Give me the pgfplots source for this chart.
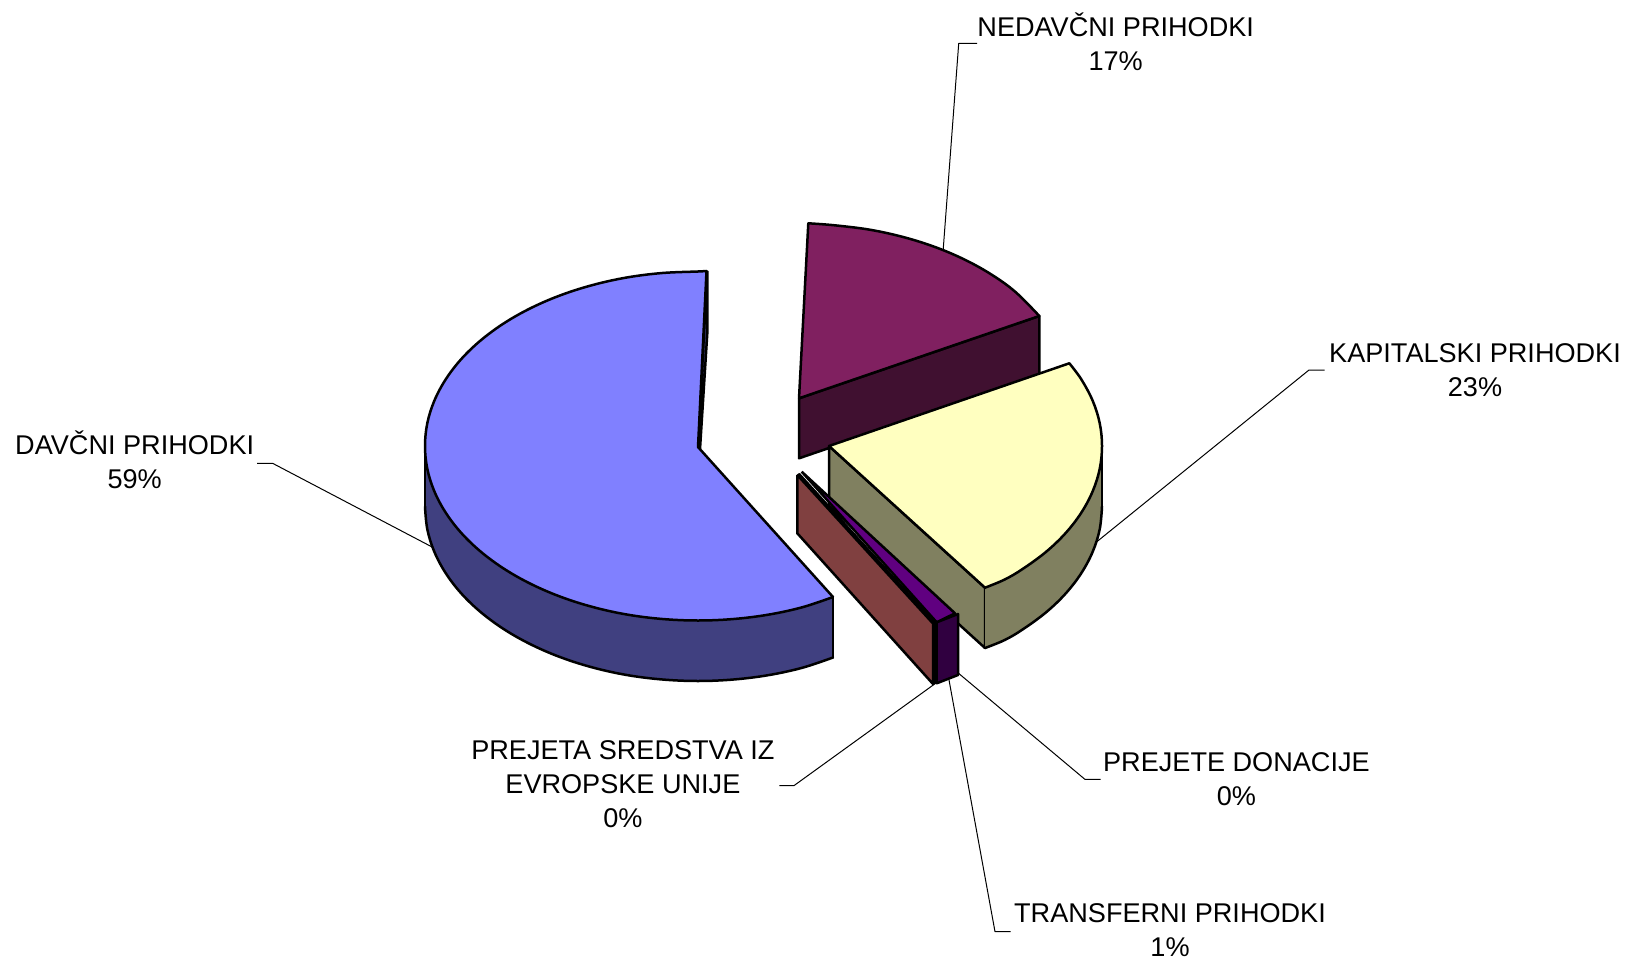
\documentclass[border=0pt]{standalone}
\usepackage{pgfplots}
\pgfplotsset{compat=1.18}
\usepackage{fontspec}
\setmainfont{Liberation Sans}

\definecolor{blueTop}{HTML}{8080FF}
\definecolor{blueSide}{HTML}{404080}
\definecolor{plumTop}{HTML}{802060}
\definecolor{plumSide}{HTML}{401030}
\definecolor{creamTop}{HTML}{FFFFC0}
\definecolor{creamSide}{HTML}{808060}
\definecolor{maroonSide}{HTML}{804040}
\definecolor{violetTop}{HTML}{600080}
\definecolor{violetSide}{HTML}{300040}

\pgfplotsset{
    face/.style={draw=black, line width=1.25pt},
    facefill/.style={draw=none, fill=#1},
    edge/.style={black, line width=1.25pt, line cap=round},
    arc/.style={black, line width=1.25pt, line cap=round, smooth, tension=0.6},
    leader/.style={black, line width=0.5pt},
}

\begin{document}
\begin{tikzpicture}
\begin{axis}[
    width=812.5pt, height=481pt,
    scale only axis,
    xmin=0, xmax=1625,
    ymin=0, ymax=962,
    y dir=reverse,
    hide axis,
    clip=false,
    every axis plot/.append style={line join=round},
]
    % keeps the page as large as the reference
    \path (axis cs:0,0) rectangle (axis cs:1625,962);

    % leader lines, under the slices
    \addplot[leader] coordinates {(977,43.5) (958.7,43.5) (943,252)};
    \addplot[leader] coordinates {(1324.5,370) (1309,370) (1094,544)};
    \addplot[leader] coordinates {(257,463.3) (272.6,463.3) (434,548)};
    \addplot[leader] coordinates {(779.4,785.6) (794,785.6) (936,683)};
    \addplot[leader] coordinates {(1100.7,779.4) (1085,779.4) (957,672)};
    \addplot[leader] coordinates {(1010.5,931.7) (995,931.7) (949,680)};

    % NEDAVCNI PRIHODKI slice
    \addplot[face, fill=plumSide] coordinates {
        (799,398.3) (1039.3,316) (1039.3,376) (799,458.3) (799,398.3)};
    \addplot[facefill=plumTop] coordinates {
        (799,398.3) (808.3,223.3) (834.6,225.3) (869.7,229.7) (903.5,237.1)
        (935.5,247.2) (965.2,259.9) (992,274.9) (1015.6,292.1) (1039.3,316)
        (799,398.3)};
    \addplot[edge] coordinates {(1039.3,316) (799,398.3) (808.3,223.3)};
    \addplot[arc] coordinates {
        (808.3,223.3) (834.6,225.3) (869.7,229.7) (903.5,237.1)
        (935.5,247.2) (965.2,259.9) (992,274.9) (1015.6,292.1) (1039.3,316)};

    % KAPITALSKI PRIHODKI slice
    \addplot[face, fill=creamSide] coordinates {
        (829,446) (985,587.7) (985,648) (829,506) (829,446)};
    \addplot[facefill=creamSide] coordinates {
        (1102,446) (1099.7,468.8) (1092.7,491.2) (1081.2,512.8) (1065.4,533.3)
        (1045.6,552.2) (1022,569.4) (1004.3,579.7) (985,587.7)
        (985,648) (1004.3,640.2) (1022,629.9) (1045.6,612.7) (1065.4,593.8)
        (1081.2,573.3) (1092.7,551.7) (1099.7,529.3) (1102,506.5) (1102,446)};
    \addplot[edge] coordinates {(1102,446) (1102,506.5)};
    \addplot[arc] coordinates {
        (985,648) (1004.3,640.2) (1022,629.9) (1045.6,612.7) (1065.4,593.8)
        (1081.2,573.3) (1092.7,551.7) (1099.7,529.3) (1102,506.5)};
    \addplot[facefill=creamTop] coordinates {
        (829,446) (1069.3,363.3) (1081.2,379.2) (1092.7,400.8) (1099.7,423.2)
        (1102,446) (1099.7,468.8) (1092.7,491.2) (1081.2,512.8) (1065.4,533.3)
        (1045.6,552.2) (1022,569.4) (1004.3,579.7) (985,587.7) (829,446)};
    \addplot[edge] coordinates {(1069.3,363.3) (829,446) (985,587.7)};
    \addplot[arc] coordinates {
        (1069.3,363.3) (1081.2,379.2) (1092.7,400.8) (1099.7,423.2)
        (1102,446) (1099.7,468.8) (1092.7,491.2) (1081.2,512.8) (1065.4,533.3)
        (1045.6,552.2) (1022,569.4) (1004.3,579.7) (985,587.7)};

    % PREJETE DONACIJE slice
    \addplot[face, fill=violetTop] coordinates {
        (801.7,471.7) (955,613.3) (936.7,622.3) (801.7,471.7)};
    \addplot[face, fill=violetSide] coordinates {
        (936.7,622.3) (958,614) (958,675) (936.7,683.3) (936.7,622.3)};

    % TRANSFERNI and EU slices
    \addplot[draw=black, fill=black, line width=0.6pt] coordinates {
        (799.5,473.5) (935.5,622.5) (935.5,683.3) (933,684) (933,623.5) (797.3,475) (799.5,473.5)};
    \addplot[face, fill=maroonSide] coordinates {
        (797.3,475) (933,623.5) (933,684) (797.3,533.3) (797.3,475)};

    % DAVCNI PRIHODKI slice
    \addplot[face, fill=blueSide] coordinates {
        (707.3,271) (707.3,333) (700,449) (698,447) (707.3,271)};
    \addplot[facefill=blueSide] coordinates {
        (425,446) (427.3,468.8) (434.3,491.2) (445.8,512.8) (461.6,533.3)
        (481.4,552.2) (505,569.4) (531.8,584.4) (561.5,597.1) (593.5,607.2)
        (627.3,614.6) (662.4,619) (698,620.5) (733.6,619) (768.7,614.6)
        (802.5,607.2) (833,597)
        (833,657.5) (802.5,667.7) (768.7,675.1) (733.6,679.5) (698,681)
        (662.4,679.5) (627.3,675.1) (593.5,667.7) (561.5,657.6) (531.8,644.9)
        (505,629.9) (481.4,612.7) (461.6,593.8) (445.8,573.3) (434.3,551.7)
        (427.3,529.3) (425,506.5) (425,446)};
    \addplot[edge] coordinates {(425,446) (425,506.5)};
    \addplot[edge] coordinates {(833,597) (833,657.5)};
    \addplot[arc] coordinates {
        (833,657.5) (802.5,667.7) (768.7,675.1) (733.6,679.5) (698,681)
        (662.4,679.5) (627.3,675.1) (593.5,667.7) (561.5,657.6) (531.8,644.9)
        (505,629.9) (481.4,612.7) (461.6,593.8) (445.8,573.3) (434.3,551.7)
        (427.3,529.3) (425,506.5)};
    \addplot[facefill=blueTop] coordinates {
        (698,447) (706.5,271) (698,271.5) (662.4,273) (627.3,277.4)
        (593.5,284.8) (561.5,294.9) (531.8,307.6) (505,322.6) (481.4,339.8)
        (461.6,358.7) (445.8,379.2) (434.3,400.8) (427.3,423.2) (425,446)
        (427.3,468.8) (434.3,491.2) (445.8,512.8) (461.6,533.3) (481.4,552.2)
        (505,569.4) (531.8,584.4) (561.5,597.1) (593.5,607.2) (627.3,614.6)
        (662.4,619) (698,620.5) (733.6,619) (768.7,614.6) (802.5,607.2)
        (833,597) (698,447)};
    \addplot[edge] coordinates {(706.5,271) (698,447) (833,597)};
    \addplot[arc] coordinates {
        (706.5,271) (698,271.5) (662.4,273) (627.3,277.4)
        (593.5,284.8) (561.5,294.9) (531.8,307.6) (505,322.6) (481.4,339.8)
        (461.6,358.7) (445.8,379.2) (434.3,400.8) (427.3,423.2) (425,446)
        (427.3,468.8) (434.3,491.2) (445.8,512.8) (461.6,533.3) (481.4,552.2)
        (505,569.4) (531.8,584.4) (561.5,597.1) (593.5,607.2) (627.3,614.6)
        (662.4,619) (698,620.5) (733.6,619) (768.7,614.6) (802.5,607.2)
        (833,597)};

    % labels
    \tikzset{lab/.style={font=\fontsize{13.55pt}{17pt}\selectfont, align=center, anchor=center, inner sep=0pt}}
    \node[lab] at (axis cs:1115.7,42) {NEDAVČNI PRIHODKI\\17\%};
    \node[lab] at (axis cs:1475,370) {KAPITALSKI PRIHODKI\\23\%};
    \node[lab] at (axis cs:134.7,460) {DAVČNI PRIHODKI\\59\%};
    \node[lab] at (axis cs:622.9,784) {PREJETA SREDSTVA IZ\\EVROPSKE UNIJE\\0\%};
    \node[lab] at (axis cs:1236.4,779) {PREJETE DONACIJE\\0\%};
    \node[lab] at (axis cs:1170,930) {TRANSFERNI PRIHODKI\\1\%};
\end{axis}
\end{tikzpicture}
\end{document}
